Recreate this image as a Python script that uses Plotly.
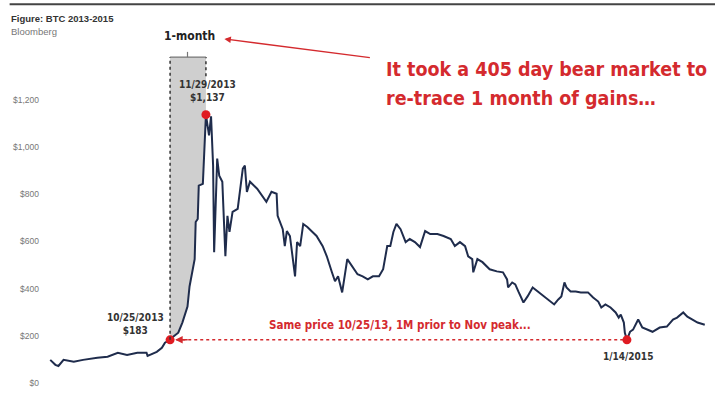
import plotly.graph_objects as go

# ---- data ----
dates = [
    "2013-06-30", "2013-07-05", "2013-07-08", "2013-07-13", "2013-07-23", "2013-08-01",
    "2013-08-15", "2013-08-25", "2013-09-04", "2013-09-13", "2013-09-23", "2013-10-02",
    "2013-10-03", "2013-10-12", "2013-10-17", "2013-10-20", "2013-10-25", "2013-10-28",
    "2013-11-02", "2013-11-06", "2013-11-11", "2013-11-13", "2013-11-18", "2013-11-19",
    "2013-11-21", "2013-11-22", "2013-11-26", "2013-11-28", "2013-11-29", "2013-12-02",
    "2013-12-04", "2013-12-06", "2013-12-07", "2013-12-10", "2013-12-12", "2013-12-15",
    "2013-12-18", "2013-12-20", "2013-12-22", "2013-12-25", "2013-12-30", "2014-01-04",
    "2014-01-06", "2014-01-08", "2014-01-11", "2014-01-18", "2014-01-23", "2014-01-27",
    "2014-02-01", "2014-02-06", "2014-02-07", "2014-02-12", "2014-02-14", "2014-02-16",
    "2014-02-19", "2014-02-24", "2014-02-26", "2014-03-01", "2014-03-04", "2014-03-08",
    "2014-03-13", "2014-03-17", "2014-03-23", "2014-03-27", "2014-04-01", "2014-04-04",
    "2014-04-07", "2014-04-11", "2014-04-16", "2014-04-21", "2014-04-26", "2014-05-01",
    "2014-05-06", "2014-05-11", "2014-05-17", "2014-05-21", "2014-05-25", "2014-05-28",
    "2014-05-31", "2014-06-03", "2014-06-07", "2014-06-12", "2014-06-16", "2014-06-21",
    "2014-06-26", "2014-07-01", "2014-07-06", "2014-07-13", "2014-07-19", "2014-07-26",
    "2014-07-30", "2014-08-04", "2014-08-09", "2014-08-12", "2014-08-16", "2014-08-17",
    "2014-08-21", "2014-08-26", "2014-09-02", "2014-09-09", "2014-09-15", "2014-09-19",
    "2014-09-20", "2014-09-24", "2014-09-27", "2014-09-30", "2014-10-05", "2014-10-09",
    "2014-10-14", "2014-10-19", "2014-10-25", "2014-11-04", "2014-11-08", "2014-11-11",
    "2014-11-14", "2014-11-16", "2014-11-20", "2014-11-25", "2014-11-30", "2014-12-07",
    "2014-12-12", "2014-12-17", "2014-12-20", "2014-12-24", "2014-12-29", "2015-01-03",
    "2015-01-06", "2015-01-08", "2015-01-11", "2015-01-12", "2015-01-14", "2015-01-17",
    "2015-01-20", "2015-01-25", "2015-01-29", "2015-02-03", "2015-02-08", "2015-02-15",
    "2015-02-22", "2015-02-28", "2015-03-04", "2015-03-10", "2015-03-14", "2015-03-19",
    "2015-03-24", "2015-03-31",
]
prices = [
    98, 77, 72, 98, 90, 98,
    107, 111, 128, 119, 128, 128,
    115, 132, 149, 171, 183, 196,
    213, 256, 324, 409, 525, 682,
    695, 836, 844, 1066, 1137, 1049,
    1130, 921, 554, 951, 878, 853,
    537, 708, 640, 725, 738, 908,
    921, 810, 853, 823, 793, 768,
    810, 802, 708, 652, 580, 644,
    623, 452, 597, 580, 674, 661,
    640, 623, 580, 537, 469, 431,
    452, 384, 525, 495, 461, 452,
    439, 452, 452, 482, 580, 580,
    640, 674, 652, 597, 610, 597,
    576, 644, 631, 631, 623, 610,
    580, 597, 580, 537, 525, 469,
    525, 512, 482, 473, 469, 439,
    405, 426, 418, 388, 341, 367,
    405, 388, 367, 333, 354, 367,
    426, 405, 388, 388, 384, 384,
    362, 345, 320, 333, 320, 299,
    277, 290, 256, 213, 183, 217,
    226, 269, 235, 226, 217, 235,
    239, 269, 277, 299, 281, 269,
    256, 247,
]

key_dates = ["2013-10-25", "2013-11-29", "2015-01-14"]
key_prices = [183, 1137, 183]
key_labels = ["10/25/2013<br>$183", "11/29/2013<br>$1,137", "1/14/2015"]

y_ticks = [0, 200, 400, 600, 800, 1000, 1200]
y_tick_labels = ["$0", "$200", "$400", "$600", "$800", "$1,000", "$1,200"]

window_start, window_end = key_dates[0], key_dates[1]
window_top = 1381

NAVY = "#1f2c4c"
RED = "#d42a2e"
NARROW = "DejaVu Sans Condensed, Liberation Sans Narrow, Arial Narrow, sans-serif"
ARIAL = "Liberation Sans, Arial, sans-serif"

fig = go.Figure()

# gray 1-month window: fill between curve and window top
win_x = [d for d in dates if window_start <= d <= window_end]
win_y = [p for d, p in zip(dates, prices) if window_start <= d <= window_end]
fig.add_trace(go.Scatter(x=win_x, y=[window_top] * len(win_x), mode="lines",
                         line=dict(width=0, color="rgba(0,0,0,0)"), hoverinfo="skip",
                         showlegend=False))
fig.add_trace(go.Scatter(x=win_x, y=win_y, mode="lines", fill="tonexty",
                         fillcolor="#cfcfcf", line=dict(width=0, color="rgba(0,0,0,0)"),
                         hoverinfo="skip", showlegend=False))

# dotted borders of the window
fig.add_shape(type="line", x0=window_start, x1=window_start, y0=key_prices[0], y1=window_top,
              line=dict(color="#333333", width=1.5, dash="dot"))
fig.add_shape(type="line", x0=window_end, x1=window_end, y0=1300, y1=window_top,
              line=dict(color="#333333", width=1.5, dash="dot"))
fig.add_shape(type="line", x0=window_start, x1=window_end, y0=window_top, y1=window_top,
              line=dict(color="#777777", width=1.2))
fig.add_shape(type="line", x0="2013-11-11", x1="2013-11-11", y0=window_top, y1=window_top + 22,
              line=dict(color="#777777", width=1.2))

# main price line
fig.add_trace(go.Scatter(x=dates, y=prices, mode="lines",
                         line=dict(color=NAVY, width=2), showlegend=False))

# red dotted "same price" line
fig.add_shape(type="line", x0="2013-10-31", x1=key_dates[2], y0=key_prices[0], y1=key_prices[0],
              line=dict(color=RED, width=1.5, dash="dot"))
fig.add_annotation(x="2013-10-30", y=key_prices[0], ax=14, ay=0, text="", showarrow=True,
                   arrowhead=2, arrowsize=1, arrowwidth=1.5, arrowcolor=RED)

# key point markers
fig.add_trace(go.Scatter(x=key_dates, y=key_prices, mode="markers",
                         marker=dict(color="#e01b22", size=9), showlegend=False))

# key point labels
fig.add_annotation(x=key_dates[0], y=key_prices[0], text="<b>" + key_labels[0] + "</b>",
                   showarrow=False, xanchor="center", yanchor="bottom", xshift=-35, yshift=2,
                   font=dict(family=NARROW, size=10, color="#333333"))
fig.add_annotation(x=key_dates[1], y=key_prices[1], text="<b>" + key_labels[1] + "</b>",
                   showarrow=False, xanchor="center", yanchor="bottom", xshift=2, yshift=10,
                   font=dict(family=NARROW, size=10, color="#333333"))
fig.add_annotation(x=key_dates[2], y=key_prices[2], text="<b>" + key_labels[2] + "</b>",
                   showarrow=False, xanchor="center", yanchor="top", xshift=1, yshift=-9,
                   font=dict(family=NARROW, size=10, color="#333333"))

fig.add_annotation(x="2014-06-06", y=key_prices[0], text="<b>Same price 10/25/13, 1M prior to Nov peak...</b>",
                   showarrow=False, xanchor="center", yanchor="bottom", yshift=6,
                   font=dict(family=NARROW, size=11.5, color=RED))

# 1-month label and red arrow
fig.add_annotation(x="2013-11-13", y=window_top, text="<b>1-month</b>", showarrow=False,
                   xanchor="center", yanchor="bottom", yshift=12,
                   font=dict(family=NARROW, size=12, color="#222222"))
fig.add_annotation(x="2013-12-17", y=1458, ax=147, ay=19, text="", showarrow=True,
                   arrowhead=2, arrowsize=1, arrowwidth=1.3, arrowcolor=RED)

fig.add_annotation(xref="paper", yref="paper", x=0.51, y=0.925,
                   text="<b>It took a 405 day bear market to</b>",
                   showarrow=False, xanchor="left", yanchor="top", align="left",
                   font=dict(family=NARROW, size=19.5, color=RED))
fig.add_annotation(xref="paper", yref="paper", x=0.51, y=0.843,
                   text="<b>re-trace 1 month of gains…</b>",
                   showarrow=False, xanchor="left", yanchor="top", align="left",
                   font=dict(family=NARROW, size=19.5, color=RED))

# header
fig.add_shape(type="line", xref="paper", yref="paper", x0=-0.045, x1=1.0, y0=1.07, y1=1.07,
              line=dict(color="#444444", width=2))
fig.add_annotation(xref="paper", yref="paper", x=-0.046, y=1.05, text="<b>Figure: BTC 2013-2015</b>",
                   showarrow=False, xanchor="left", yanchor="top",
                   font=dict(family=ARIAL, size=9.5, color="#333333"))
fig.add_annotation(xref="paper", yref="paper", x=-0.046, y=1.015, text="Bloomberg",
                   showarrow=False, xanchor="left", yanchor="top",
                   font=dict(family=ARIAL, size=9.5, color="#777777"))

fig.update_layout(
    width=725, height=393,
    margin=dict(l=40, r=10, t=29, b=10),
    paper_bgcolor="white", plot_bgcolor="white",
    showlegend=False,
    xaxis=dict(range=["2013-06-20", "2015-04-10"], showgrid=False, zeroline=False,
               showline=False, showticklabels=False, ticks="", automargin=False),
    yaxis=dict(range=[0, 1500], tickvals=y_ticks, ticktext=y_tick_labels, showgrid=False,
               zeroline=False, showline=False, ticks="", automargin=False,
               tickfont=dict(family=ARIAL, size=8.5, color="#777777")),
)

fig.write_html("out.html", config={"displayModeBar": False},
               post_script="document.body.style.margin='0px';")
